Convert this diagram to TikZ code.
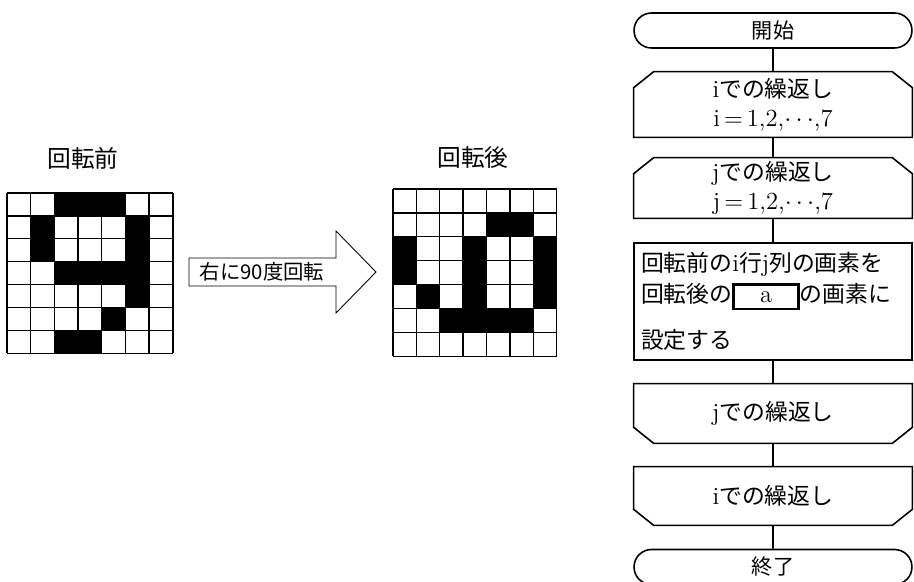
\documentclass[tikz,border=0pt]{standalone}
\usepackage{fontspec}
\newfontfamily\jp{Noto Sans CJK JP}
\usetikzlibrary{shapes.misc}

\newcommand{\lat}[1]{{\rmfamily\fontsize{14}{16.5}\selectfont #1}}
\newcommand{\casella}[1]{{\setlength{\fboxrule}{1.4pt}\setlength{\fboxsep}{0pt}%
  \fbox{\makebox[1.25cm]{\rule[-3pt]{0pt}{12.5pt}\lat{#1}}}}}

\tikzset{
  linea/.style={line width=0.9pt},
  blocco/.style={minimum width=5.56cm, inner sep=0pt},
  terminale/.style={blocco, draw, linea, rounded rectangle, minimum height=0.7cm,
    font=\jp\fontsize{12}{14}\selectfont},
  ciclo/.style={blocco, rectangle, align=center,
    font=\jp\fontsize{13}{16.5}\selectfont},
  processo/.style={blocco, draw, linea, rectangle, inner xsep=0.14cm, text width=5.28cm,
    align=left, font=\jp\fontsize{13}{17.5}\selectfont},
  titolo/.style={font=\jp\fontsize{13.5}{16}\selectfont},
  cella/.style={line width=0.8pt}
}

\begin{document}
\begin{tikzpicture}[x=0.02cm, y=-0.02cm]
	\useasboundingbox (0,0) rectangle (914,582);

	% griglia prima della rotazione
	\node[titolo] (prima) at (83,158) {回転前};
	\begin{scope}[shift={(7,193)}, x=0.474cm, y=-0.458cm]
		\foreach \c/\r in {3/1,4/1,5/1,2/2,6/2,2/3,6/3,3/4,4/4,5/4,6/4,6/5,5/6,3/7,4/7}
			\fill[color=black] (\c-1,\r-1) rectangle (\c,\r);
		\foreach \i in {0,...,7} {
			\draw[cella] (\i,0) -- (\i,7);
			\draw[cella] (0,\i) -- (7,\i);
		}
	\end{scope}

	% griglia dopo la rotazione
	\node[titolo] (dopo) at (473,158) {回転後};
	\begin{scope}[shift={(393,189)}, x=0.468cm, y=-0.478cm]
		\foreach \c/\r in {5/2,6/2,1/3,4/3,7/3,1/4,4/4,7/4,2/5,4/5,7/5,3/6,4/6,5/6,6/6}
			\fill[color=black] (\c-1,\r-1) rectangle (\c,\r);
		\foreach \i in {0,...,7} {
			\draw[cella] (\i,0) -- (\i,7);
			\draw[cella] (0,\i) -- (7,\i);
		}
	\end{scope}

	% freccia
	\draw[line width=0.5pt] (189,258) -- (336,258) -- (336,231) -- (376,272)
		-- (336,313) -- (336,286) -- (189,286) -- cycle;
	\node[font=\jp\fontsize{11.6}{14}\selectfont] (ruota) at (262,272) {右に90度回転};

	% diagramma di flusso
	\node[terminale] (avvio) at (773,30.5) {開始};
	\node[ciclo, minimum height=1.3cm] (cicloi) at (773,104.5)
		{\lat{i}での繰返し\\\lat{i\,=\,1,2,$\cdots$,7}};
	\node[ciclo, minimum height=1.2cm] (cicloj) at (773,188)
		{\lat{j}での繰返し\\\lat{j\,=\,1,2,$\cdots$,7}};
	\node[processo, minimum height=2.34cm] (corpo) at (773,301.5)
		{回転前の\lat{i}行\lat{j}列の画素を\\
		 回転後の\casella{a}の画素に\\[9pt]
		 設定する};
	\node[ciclo, minimum height=1.18cm] (finej) at (773,413.5) {\lat{j}での繰返し};
	\node[ciclo, minimum height=1.16cm] (finei) at (773,496) {\lat{i}での繰返し};
	\node[terminale] (stop) at (773,567) {終了};

	% contorni dei cicli
	\foreach \n in {cicloi,cicloj}
		\draw[linea] (\n.south west) -- ([yshift=-0.32cm]\n.north west)
			-- ([xshift=0.4cm]\n.north west) -- ([xshift=-0.4cm]\n.north east)
			-- ([yshift=-0.32cm]\n.north east) -- (\n.south east) -- cycle;
	\foreach \n in {finej,finei}
		\draw[linea] (\n.north west) -- ([yshift=0.32cm]\n.south west)
			-- ([xshift=0.4cm]\n.south west) -- ([xshift=-0.4cm]\n.south east)
			-- ([yshift=0.32cm]\n.south east) -- (\n.north east) -- cycle;

	\draw[linea] (avvio) -- (cicloi);
	\draw[linea] (cicloi) -- (cicloj);
	\draw[linea] (cicloj) -- (corpo);
	\draw[linea] (corpo) -- (finej);
	\draw[linea] (finej) -- (finei);
	\draw[linea] (finei) -- (stop);
\end{tikzpicture}
\end{document}
